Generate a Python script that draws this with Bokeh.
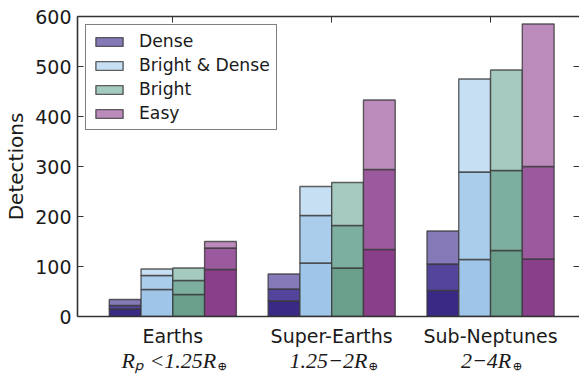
from bokeh.plotting import figure
from bokeh.models import Range1d, FixedTicker, LinearAxis, Legend, LegendItem
from bokeh.embed import file_html
from bokeh.resources import INLINE

# ---------------- data ----------------
groups = ["Earths", "Super-Earths", "Sub-Neptunes"]
group_sub = ["Rₚ <1.25R", "1.25−2R", "2−4R"]
sub_symbol = "⊕"
series = ["Dense", "Bright & Dense", "Bright", "Easy"]
y_ticks = [0, 100, 200, 300, 400, 500, 600]

# cumulative stack levels per group (lowest, middle, total)
dense_low = [15, 31, 52]
dense_mid = [22, 55, 105]
dense_top = [34, 85, 171]
bd_low = [54, 107, 114]
bd_mid = [82, 202, 289]
bd_top = [95, 260, 475]
bright_low = [44, 97, 132]
bright_mid = [72, 182, 292]
bright_top = [97, 268, 493]
easy_low = [94, 134, 115]
easy_mid = [137, 294, 300]
easy_top = [150, 433, 585]

levels = [
    (dense_low, dense_mid, dense_top),
    (bd_low, bd_mid, bd_top),
    (bright_low, bright_mid, bright_top),
    (easy_low, easy_mid, easy_top),
]

# ---------------- style ----------------
shades = [
    ("#3b2a85", "#54449b", "#8579b8"),
    ("#9fc5e8", "#abcdec", "#c6dff3"),
    ("#6a9f8b", "#7caf9f", "#a5cbc0"),
    ("#8a3f8b", "#9b5a9d", "#bb8bbc"),
]
bar_w = 0.2
offsets = [-0.3, -0.1, 0.1, 0.3]
# horizontal placement (data units) of the formula line and of its subscript symbol
sub_text_shift = [-0.025, -0.02, -0.028]
sub_symbol_shift = [0.31, 0.26, 0.168]
TXT = "#1a1a1a"
EDGE = "#3a3a3a"
SPINE = "#333333"

p = figure(width=579, height=375, output_backend="svg", toolbar_location=None,
           x_range=Range1d(-0.6, 2.56), y_range=Range1d(0, 600),
           min_border_left=77, min_border_top=16, min_border_right=0, min_border_bottom=59)
p.outline_line_color = None
p.grid.visible = False
p.background_fill_color = "white"

legend_items = []
for i, name in enumerate(series):
    xs = [g + offsets[i] for g in range(len(groups))]
    prev = [0] * len(groups)
    top_r = None
    for k in range(3):
        cur = levels[i][k]
        r = p.vbar(x=xs, width=bar_w, bottom=prev, top=cur,
                   fill_color=shades[i][k], line_color=EDGE, line_width=1.4, line_alpha=0.8)
        prev = cur
        top_r = r
    legend_items.append(LegendItem(label=name, renderers=[top_r]))

legend = Legend(items=legend_items, location="top_left", margin=8, padding=6,
                spacing=4, glyph_width=34, glyph_height=11, label_height=17,
                label_standoff=13, label_text_font="DejaVu Sans",
                label_text_font_size="17.2px", label_text_color=TXT,
                border_line_color="black", border_line_width=1.5,
                background_fill_color="white", background_fill_alpha=1)
p.add_layout(legend)

# left axis
ya = p.yaxis[0]
ya.ticker = FixedTicker(ticks=y_ticks)
ya.minor_tick_line_color = None
ya.major_tick_in = 6
ya.major_tick_out = 0
ya.major_label_standoff = 6
ya.axis_line_width = 1.6
ya.axis_line_color = SPINE
ya.major_tick_line_color = SPINE
ya.major_label_text_font = "DejaVu Sans"
ya.major_label_text_font_size = "19px"
ya.major_label_text_color = TXT
ya.axis_label = "Detections"
ya.axis_label_text_font = "DejaVu Sans"
ya.axis_label_text_font_size = "20px"
ya.axis_label_text_font_style = "normal"
ya.axis_label_text_color = TXT
ya.axis_label_standoff = 4

# bottom axis: category names
xa = p.xaxis[0]
xa.ticker = FixedTicker(ticks=list(range(len(groups))))
xa.major_label_overrides = {i: g for i, g in enumerate(groups)}
xa.minor_tick_line_color = None
xa.major_tick_in = 0
xa.major_tick_out = 0
xa.major_label_standoff = 8
xa.axis_line_width = 1.6
xa.axis_line_color = SPINE
xa.major_label_text_font = "DejaVu Sans"
xa.major_label_text_font_size = "19px"
xa.major_label_text_color = TXT

# second line: formula
sub_ticks = [g + sub_text_shift[g] for g in range(len(groups))]
xa2 = LinearAxis(ticker=FixedTicker(ticks=sub_ticks),
                 major_label_overrides={t: s for t, s in zip(sub_ticks, group_sub)},
                 major_tick_in=0, major_tick_out=0, minor_tick_line_color=None,
                 axis_line_color=None, major_label_standoff=-2,
                 major_label_text_font="Liberation Serif", major_label_text_font_style="italic",
                 major_label_text_font_size="22px", major_label_text_color=TXT)
p.add_layout(xa2, "below")

# subscript symbol
sym_ticks = [g + sub_symbol_shift[g] for g in range(len(groups))]
xa3 = LinearAxis(ticker=FixedTicker(ticks=sym_ticks),
                 major_label_overrides={t: sub_symbol for t in sym_ticks},
                 major_tick_in=0, major_tick_out=0, minor_tick_line_color=None,
                 axis_line_color=None, major_label_standoff=-17,
                 major_label_text_font="DejaVu Serif",
                 major_label_text_font_size="12px", major_label_text_color=TXT)
p.add_layout(xa3, "below")

# top spine with inward ticks
top = LinearAxis(ticker=FixedTicker(ticks=list(range(len(groups)))),
                 major_tick_in=6, major_tick_out=0, minor_tick_line_color=None,
                 major_label_text_font_size="1px", major_label_text_color=None,
                 major_label_standoff=0,
                 axis_line_width=1.6, axis_line_color=SPINE,
                 major_tick_line_color=SPINE)
p.add_layout(top, "above")

# right side inward ticks (the spine itself lies beyond the view)
right = LinearAxis(ticker=FixedTicker(ticks=y_ticks), major_tick_in=6, major_tick_out=0,
                   minor_tick_line_color=None, major_label_text_font_size="1px",
                   major_label_text_color=None,
                   major_label_standoff=0, axis_line_color=None,
                   major_tick_line_color=SPINE)
p.add_layout(right, "right")

open("out.html", "w").write(file_html(p, INLINE))
